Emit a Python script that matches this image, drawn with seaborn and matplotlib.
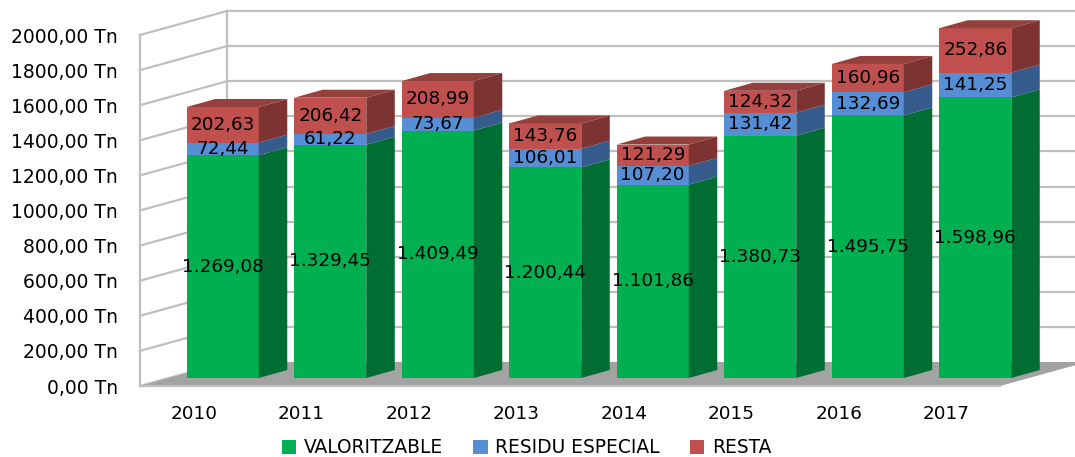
import matplotlib
matplotlib.use("Agg")
import matplotlib.pyplot as plt
from matplotlib.patches import Polygon
from matplotlib.transforms import Affine2D
import numpy as np
import pandas as pd
import seaborn as sns

years = ["2010", "2011", "2012", "2013", "2014", "2015", "2016", "2017"]
valoritzable = [1269.08, 1329.45, 1409.49, 1200.44, 1101.86, 1380.73, 1495.75, 1598.96]
residu_especial = [72.44, 61.22, 73.67, 106.01, 107.20, 131.42, 132.69, 141.25]
resta = [202.63, 206.42, 208.99, 143.76, 121.29, 124.32, 160.96, 252.86]
series_names = ["VALORITZABLE", "RESIDU ESPECIAL", "RESTA"]
y_ticks = [0, 200, 400, 600, 800, 1000, 1200, 1400, 1600, 1800, 2000]

front_colors = ["#00B050", "#558ED5", "#C0504D"]
side_colors = ["#006E32", "#345B8C", "#7C3331"]
top_color = "#94403D"
wall_color = "#BFBFBF"
floor_color = "#A3A3A3"
FONT = "DejaVu Sans"

sns.set_theme(style="white")
plt.rcParams["font.family"] = [FONT]

W, H = 1075, 457
fig = plt.figure(figsize=(W / 100, H / 100), dpi=100, facecolor="white")
L, R, B, T = 140, 1000, 386, 35
ax = fig.add_axes([L / W, (H - B) / H, (R - L) / W, (B - T) / H])


def fmt_val(v):
    s = f"{v:,.2f}"
    return s.replace(",", "X").replace(".", ",").replace("X", ".")


df = pd.DataFrame({"year": years, "a": valoritzable, "b": residu_especial, "c": resta})
columns = ["a", "b", "c"]
BAR_W = 0.67
bottoms = np.zeros(len(years))
layers = []
for col, name, color in zip(columns, series_names, front_colors):
    n_before = len(ax.patches)
    sns.barplot(data=df, x="year", y=col, bottom=bottoms, color=color, saturation=1,
                width=BAR_W, label=name, ax=ax, zorder=3, linewidth=0, err_kws={"linewidth": 0})
    layers.append((ax.patches[n_before:], bottoms.copy(), df[col].to_numpy()))
    bottoms = bottoms + df[col].to_numpy()

ax.set_xlim(-0.5, 7.5)
ax.set_ylim(0, 2000)
ppx = (R - L) / 8
ppy = (B - T) / 2000
# depth of the whole box, and shift of the bars inside it (pixels -> data)
WALL_DX, WALL_DY = 87 / ppx, 24 / ppy
BAR_DX, BAR_DY = 29 / ppx, 8 / ppy
SIDE_DX, SIDE_DY = 28.5 / ppx, 8 / ppy
x0, x1 = -0.5, 7.5
line_kw = dict(color=wall_color, lw=1.6, zorder=1, clip_on=False, solid_capstyle="projecting")

# floor
ax.add_patch(Polygon([(x0, 0), (x1, 0), (x1 + WALL_DX, WALL_DY), (x0 + WALL_DX, WALL_DY)],
                     closed=True, facecolor=floor_color, edgecolor="none", zorder=1.5, clip_on=False))
ax.plot([x0, x1], [0, 0], **{**line_kw, "zorder": 1.6})

# walls
for v in y_ticks:
    ax.plot([x0, x0 + WALL_DX], [v, v + WALL_DY], **line_kw)
    if v > 0:
        ax.plot([x0 + WALL_DX, x1 + WALL_DX], [v + WALL_DY, v + WALL_DY], **line_kw)
ax.plot([x0, x0], [0, y_ticks[-1]], **line_kw)
ax.plot([x0 + WALL_DX, x0 + WALL_DX], [WALL_DY, y_ticks[-1] + WALL_DY], **line_kw)

# bars moved into the box, with side and top faces
shift = Affine2D().translate(BAR_DX, BAR_DY) + ax.transData
for li, (patches, bots, vals) in enumerate(layers):
    for i, p in enumerate(patches):
        p.set_transform(shift)
        p.set_clip_on(False)
        xr = p.get_x() + p.get_width()
        xl = p.get_x()
        b, t = bots[i], bots[i] + vals[i]
        ax.add_patch(Polygon([(xr, b), (xr + SIDE_DX, b + SIDE_DY), (xr + SIDE_DX, t + SIDE_DY), (xr, t)],
                             closed=True, facecolor=side_colors[li], edgecolor="none",
                             transform=shift, zorder=3, clip_on=False))
        if li == len(layers) - 1:
            ax.add_patch(Polygon([(xl, t), (xr, t), (xr + SIDE_DX, t + SIDE_DY), (xl + SIDE_DX, t + SIDE_DY)],
                                 closed=True, facecolor=top_color, edgecolor="none",
                                 transform=shift, zorder=3, clip_on=False))
        ax.text(i, (b + t) / 2, fmt_val(vals[i]), transform=shift, ha="center", va="center",
                fontsize=13.2, color="black", zorder=5, clip_on=False)

sns.despine(ax=ax, left=True, bottom=True)
ax.set_xlabel("")
ax.set_ylabel("")
ax.set_yticks(y_ticks)
ax.set_yticklabels([f"{v},00 Tn" for v in y_ticks])
ax.tick_params(axis="y", length=0, pad=16, labelsize=13.5, labelcolor="black")
ax.tick_params(axis="x", length=0, pad=14, labelsize=13.2, labelcolor="black")
ax.grid(False)

ax.legend(loc="center", bbox_to_anchor=(526.5 / W, (H - 447.5) / H), bbox_transform=fig.transFigure,
          ncols=3, frameon=False, fontsize=13.4, handlelength=0.78, handleheight=0.78,
          handletextpad=0.42, columnspacing=1.6, borderpad=0, labelcolor="black")

fig.savefig("out.png", dpi=100, facecolor="white")
